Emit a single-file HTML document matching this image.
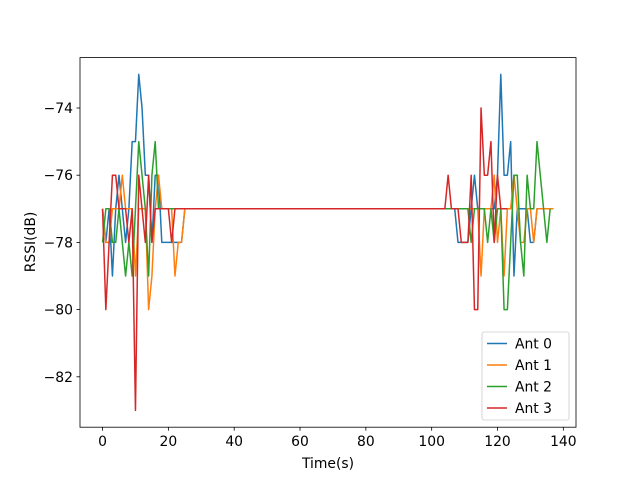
<!DOCTYPE html>
<html><head><meta charset="utf-8"><style>
body{margin:0;background:#fff}
svg text{font-family:"DejaVu Sans","Liberation Sans",sans-serif;font-size:13.9px;fill:#000}
</style></head><body>
<svg id="chart" width="640" height="480">
<rect width="640" height="480" fill="#fff"/>
<g id="series"></g>
<rect x="80" y="57.6" width="496" height="369.6" fill="none" stroke="#000" stroke-width="0.8"/>
<g id="axes"></g>
<text x="328" y="468" text-anchor="middle">Time(s)</text>
<text transform="translate(35,242) rotate(-90)" text-anchor="middle">RSSI(dB)</text>
<g id="legend"></g>
</svg>
<script>
const seriesNames = ["Ant 0","Ant 1","Ant 2","Ant 3"];
const colors = ["#1f77b4","#ff7f0e","#2ca02c","#d62728"];
const xTicks = [0,20,40,60,80,100,120,140];
const yTicks = [-82,-80,-78,-76,-74];
const t0 = [0,1,2,3,4,5,6,7,8,9,10,11,12,13,14,15,16,17,18,19,20,21,22,23,24,25,104,105,106,107,108,109,110,111,112,113,114,115,116,117,118,119,120,121,122,123,124,125,126,127,128,129,130,131,132,133];
const v0 = [-77,-78,-77,-79,-77,-76,-77,-78,-77,-75,-75,-73,-74,-76,-76,-78,-76,-76,-78,-78,-78,-78,-78,-78,-78,-77,-77,-77,-77,-77,-78,-78,-78,-78,-77,-76,-77,-77,-77,-77,-77,-77,-76,-73,-76,-76,-75,-79,-77,-77,-77,-77,-78,-78,-77,-77];
const t1 = [0,1,2,3,4,5,6,7,8,9,10,11,12,13,14,15,16,17,18,19,20,21,22,23,24,25,104,111,112,113,114,115,116,117,118,119,120,121,122,123,124,125,126,127,128,129,130,131,132,133,134,135,136,137];
const v1 = [-77,-78,-78,-77,-77,-77,-76,-77,-77,-77,-79,-77,-77,-77,-80,-79,-77,-76,-77,-77,-77,-77,-79,-78,-78,-77,-77,-77,-77,-77,-77,-79,-77,-77,-77,-76,-78,-77,-79,-77,-77,-76,-77,-78,-78,-77,-77,-78,-77,-77,-77,-77,-77,-77];
const t2 = [0,1,2,3,4,5,6,7,8,9,10,11,12,13,14,15,16,17,18,104,111,112,113,114,115,116,117,118,119,120,121,122,123,124,125,126,127,128,129,130,131,132,133,134,135,136];
const v2 = [-78,-77,-77,-78,-78,-77,-78,-79,-78,-79,-77,-75,-76,-77,-79,-76,-75,-77,-77,-77,-77,-78,-77,-77,-77,-77,-78,-77,-78,-77,-77,-80,-80,-78,-76,-76,-78,-79,-76,-77,-77,-75,-76,-77,-78,-77];
const t3 = [0,1,2,3,4,5,6,7,8,9,10,11,12,13,14,15,16,17,18,19,20,21,22,104,105,106,107,108,109,110,111,112,113,114,115,116,117,118,119,120,121,122,123];
const v3 = [-77,-80,-78,-76,-76,-77,-77,-77,-78,-77,-83,-76,-77,-78,-76,-78,-77,-77,-77,-77,-77,-78,-77,-77,-76,-77,-77,-77,-78,-78,-78,-76,-80,-80,-74,-76,-76,-75,-78,-76,-77,-77,-77];
const allT=[t0,t1,t2,t3], allV=[v0,v1,v2,v3];

const L=80,R=576,T=57.6,B=427.2;
const xmin=-6.85,xmax=143.85,ymin=-83.5,ymax=-72.5;
const sx=v=>L+(v-xmin)/(xmax-xmin)*(R-L);
const sy=v=>B-(v-ymin)/(ymax-ymin)*(B-T);
const NS="http://www.w3.org/2000/svg";
const mk=(tag,attrs,parent)=>{const e=document.createElementNS(NS,tag);for(const k in attrs)e.setAttribute(k,attrs[k]);parent.appendChild(e);return e;};
const axes=document.getElementById('axes');
xTicks.forEach(v=>{
  const x=sx(v);
  const tk=mk('line',{x1:x,x2:x,y1:B,y2:B+3.5,stroke:'#000','stroke-width':0.8},axes);
  
  
  const tx=mk('text',{x:x,y:B+19,'text-anchor':'middle'},axes);
  tx.textContent=v;
  
  
});
yTicks.forEach(v=>{
  const y=sy(v);
  const tk=mk('line',{x1:L-3.5,x2:L,y1:y,y2:y,stroke:'#000','stroke-width':0.8},axes);
  
  
  const tx=mk('text',{x:L-7,y:y+5,'text-anchor':'end'},axes);
  tx.textContent='\u2212'+Math.abs(v);
  
  
});
const sg=document.getElementById('series');
allT.forEach((ts,i)=>{
  const pts=ts.map((t,j)=>sx(t).toFixed(2)+','+sy(allV[i][j]).toFixed(2)).join(' ');
  const pl=mk('polyline',{points:pts,fill:'none',stroke:colors[i],'stroke-width':1.5,'stroke-linejoin':'round'},sg);
  
  
});
const lg=document.getElementById('legend');
const box=mk('rect',{x:482,y:332,width:87,height:88,rx:2,fill:'#fff','fill-opacity':0.8,stroke:'#ccc','stroke-width':0.8},lg);


seriesNames.forEach((n,i)=>{
  const y=343.5+i*21.5;
  const ln=mk('line',{x1:487,x2:507,y1:y,y2:y,stroke:colors[i],'stroke-width':1.5},lg);
  
  
  const tx=mk('text',{x:515,y:y+5},lg);
  tx.textContent=n;
  
  
});
</script>
</body></html>
